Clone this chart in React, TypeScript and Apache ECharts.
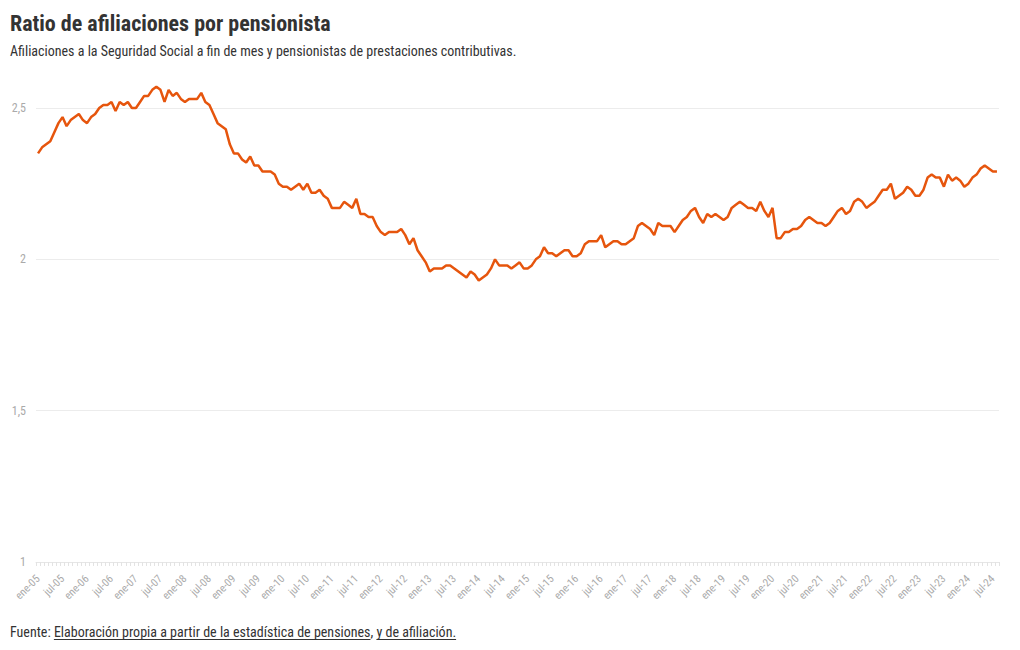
import React, { useEffect, useRef } from 'react';
import * as echarts from 'echarts';

const MONTHS = ['ene', 'feb', 'mar', 'abr', 'may', 'jun', 'jul', 'ago', 'sep', 'oct', 'nov', 'dic'];
const START_YEAR = 2005;

const RATIO_2005 = [2.35, 2.37, 2.38, 2.39, 2.42, 2.45, 2.47, 2.44, 2.46, 2.47, 2.48, 2.46];
const RATIO_2006 = [2.45, 2.47, 2.48, 2.50, 2.51, 2.51, 2.52, 2.49, 2.52, 2.51, 2.52, 2.50];
const RATIO_2007 = [2.50, 2.52, 2.54, 2.54, 2.56, 2.57, 2.56, 2.52, 2.56, 2.54, 2.55, 2.53];
const RATIO_2008 = [2.52, 2.53, 2.53, 2.53, 2.55, 2.52, 2.51, 2.48, 2.45, 2.44, 2.43, 2.38];
const RATIO_2009 = [2.35, 2.35, 2.33, 2.32, 2.34, 2.31, 2.31, 2.29, 2.29, 2.29, 2.28, 2.25];
const RATIO_2010 = [2.24, 2.24, 2.23, 2.24, 2.25, 2.23, 2.25, 2.22, 2.22, 2.23, 2.21, 2.20];
const RATIO_2011 = [2.17, 2.17, 2.17, 2.19, 2.18, 2.17, 2.20, 2.15, 2.15, 2.14, 2.14, 2.11];
const RATIO_2012 = [2.09, 2.08, 2.09, 2.09, 2.09, 2.10, 2.08, 2.05, 2.07, 2.03, 2.01, 1.99];
const RATIO_2013 = [1.96, 1.97, 1.97, 1.97, 1.98, 1.98, 1.97, 1.96, 1.95, 1.94, 1.96, 1.95];
const RATIO_2014 = [1.93, 1.94, 1.95, 1.97, 2.00, 1.98, 1.98, 1.98, 1.97, 1.98, 1.99, 1.97];
const RATIO_2015 = [1.97, 1.98, 2.00, 2.01, 2.04, 2.02, 2.02, 2.01, 2.02, 2.03, 2.03, 2.01];
const RATIO_2016 = [2.01, 2.02, 2.05, 2.06, 2.06, 2.06, 2.08, 2.04, 2.05, 2.06, 2.06, 2.05];
const RATIO_2017 = [2.05, 2.06, 2.07, 2.11, 2.12, 2.11, 2.10, 2.08, 2.12, 2.11, 2.11, 2.11];
const RATIO_2018 = [2.09, 2.11, 2.13, 2.14, 2.16, 2.17, 2.14, 2.12, 2.15, 2.14, 2.15, 2.14];
const RATIO_2019 = [2.13, 2.14, 2.17, 2.18, 2.19, 2.18, 2.17, 2.17, 2.16, 2.19, 2.16, 2.14];
const RATIO_2020 = [2.17, 2.07, 2.07, 2.09, 2.09, 2.10, 2.10, 2.11, 2.13, 2.14, 2.13, 2.12];
const RATIO_2021 = [2.12, 2.11, 2.12, 2.14, 2.16, 2.17, 2.15, 2.16, 2.19, 2.20, 2.19, 2.17];
const RATIO_2022 = [2.18, 2.19, 2.21, 2.23, 2.23, 2.25, 2.20, 2.21, 2.22, 2.24, 2.23, 2.21];
const RATIO_2023 = [2.21, 2.23, 2.27, 2.28, 2.27, 2.27, 2.24, 2.28, 2.26, 2.27, 2.26, 2.24];
const RATIO_2024 = [2.25, 2.27, 2.28, 2.30, 2.31, 2.30, 2.29, 2.29];

const RATIO = [
  ...RATIO_2005, ...RATIO_2006, ...RATIO_2007, ...RATIO_2008, ...RATIO_2009,
  ...RATIO_2010, ...RATIO_2011, ...RATIO_2012, ...RATIO_2013, ...RATIO_2014,
  ...RATIO_2015, ...RATIO_2016, ...RATIO_2017, ...RATIO_2018, ...RATIO_2019,
  ...RATIO_2020, ...RATIO_2021, ...RATIO_2022, ...RATIO_2023, ...RATIO_2024,
];

const CATEGORIES = RATIO.map(
  (_, i) => `${MONTHS[i % 12]}-${String((START_YEAR + Math.floor(i / 12)) % 100).padStart(2, '0')}`
);

const Y_MIN = 1;
const Y_MAX = 2.5;
const Y_STEP = 0.5;

const TITLE = 'Ratio de afiliaciones por pensionista';
const SUBTITLE = 'Afiliaciones a la Seguridad Social a fin de mes y pensionistas de prestaciones contributivas.';
const SOURCE_PARTS = [
  { text: 'Fuente: ', link: false },
  { text: 'Elaboración propia a partir de la estadística de pensiones', link: true },
  { text: ', ', link: false },
  { text: 'y de afiliación.', link: true },
];

const FONT = "'Roboto Condensed', 'Liberation Sans Narrow', 'DejaVu Sans Condensed', Roboto, sans-serif";

function measure(text: string, size: number, weight = 'normal') {
  const c = document.createElement('canvas').getContext('2d');
  if (!c) return text.length * size * 0.45;
  c.font = `${weight} ${size}px ${FONT}`;
  return c.measureText(text).width;
}

export default function App() {
  const ref = useRef<HTMLDivElement>(null);

  useEffect(() => {
    if (!ref.current) return;
    const chart = echarts.init(ref.current, undefined, { renderer: 'svg' });

    const footY = 632;
    const footSize = 14;
    const footerEls: any[] = [];
    let x = 10;
    SOURCE_PARTS.forEach((p) => {
      const w = measure(p.text, footSize);
      footerEls.push({
        type: 'text',
        x,
        y: footY,
        style: { text: p.text, fill: '#333', font: `normal ${footSize}px ${FONT}`, verticalAlign: 'middle', align: 'left' },
      });
      if (p.link) {
        footerEls.push({
          type: 'line',
          shape: { x1: x, y1: footY + 7.5, x2: x + w, y2: footY + 7.5 },
          style: { stroke: '#333', lineWidth: 1 },
        });
      }
      x += w;
    });

    chart.setOption({
      animation: false,
      backgroundColor: '#fff',
      textStyle: { fontFamily: FONT },
      grid: { left: 36, right: 21, top: 108, bottom: 88, containLabel: false },
      xAxis: {
        type: 'category',
        data: CATEGORIES,
        boundaryGap: true,
        axisLine: { show: true, lineStyle: { color: '#e6e6e6', width: 1 } },
        axisTick: { show: true, interval: 0, length: 4, lineStyle: { color: '#e3e3e3' } },
        axisLabel: {
          interval: 5,
          rotate: 45,
          color: '#aaa',
          fontSize: 11,
          fontFamily: FONT,
          margin: 15,
        },
        splitLine: { show: false },
      },
      yAxis: {
        type: 'value',
        min: Y_MIN,
        max: Y_MAX,
        interval: Y_STEP,
        axisLine: { show: false },
        axisTick: { show: false },
        axisLabel: {
          color: '#aaa',
          fontSize: 12,
          fontFamily: FONT,
          margin: 10,
          formatter: (v: number) => String(v).replace('.', ','),
        },
        splitLine: { show: true, lineStyle: { color: '#ececec', width: 1 } },
      },
      series: [
        {
          type: 'line',
          data: RATIO,
          showSymbol: false,
          symbol: 'none',
          clip: false,
          lineStyle: { color: '#e6550d', width: 2.5 },
          itemStyle: { color: '#e6550d' },
        },
      ],
      graphic: [
        {
          type: 'text',
          x: 10,
          y: 23,
          style: { text: TITLE, fill: '#333', font: `bold 22px ${FONT}`, verticalAlign: 'middle' },
        },
        {
          type: 'text',
          x: 10,
          y: 51,
          style: { text: SUBTITLE, fill: '#333', font: `normal 14px ${FONT}`, verticalAlign: 'middle' },
        },
        ...footerEls,
      ],
    });

    return () => chart.dispose();
  }, []);

  return (
    <div
      ref={ref}
      style={{ position: 'fixed', left: 0, top: 0, width: 1020, height: 650, background: '#fff' }}
    />
  );
}
